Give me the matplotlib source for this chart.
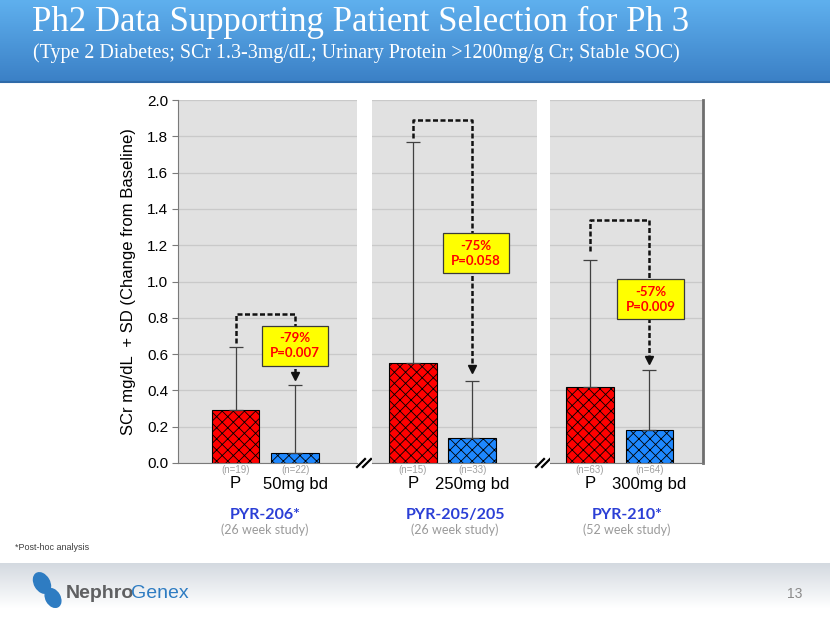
import numpy as np
import matplotlib
matplotlib.use("Agg")
import matplotlib.pyplot as plt
import matplotlib.transforms as mtransforms
from matplotlib.patches import Rectangle, Ellipse
from matplotlib.colors import LinearSegmentedColormap

# data
studies = ["PYR-206*", "PYR-205/205", "PYR-210*"]
durations = ["(26 week study)", "(26 week study)", "(52 week study)"]
groups = [["P", "50mg bd"], ["P", "250mg bd"], ["P", "300mg bd"]]
n_labels = [["(n=19)", "(n=22)"], ["(n=15)", "(n=33)"], ["(n=63)", "(n=64)"]]
means = [[0.29, 0.055], [0.55, 0.14], [0.42, 0.18]]
sds = [[0.35, 0.375], [1.22, 0.31], [0.70, 0.33]]
box_text = ["-79%\nP=0.007", "-75%\nP=0.058", "-57%\nP=0.009"]
yticks = [0.0, 0.2, 0.4, 0.6, 0.8, 1.0, 1.2, 1.4, 1.6, 1.8, 2.0]

# annotation geometry (data units)
bracket_start = [0.66, 1.79, 1.17]
bracket_top = [0.82, 1.89, 1.34]
arrow_tip = [0.46, 0.50, 0.55]
box_y = [(0.534, 0.756), (1.046, 1.268), (0.793, 1.013)]
box_x = [(0.445, 1.555), (0.508, 1.627), (0.454, 1.58)]

W, H = 830, 623
plt.rcParams["font.family"] = ["Liberation Sans", "DejaVu Sans"]
plt.rcParams["hatch.linewidth"] = 0.6
fig = plt.figure(figsize=(W / 100, H / 100), dpi=100)

def fx(x):
    return x / W

def fy(y):
    return 1 - y / H

# background: banner + footer
bg = fig.add_axes([0, 0, 1, 1])
bg.axis("off")
banner = LinearSegmentedColormap.from_list("b", ["#5fb0ee", "#3b80c6"])
bg.imshow(np.linspace(0, 1, 100).reshape(-1, 1), cmap=banner, aspect="auto",
          extent=[0, W, 82, 0], zorder=0)
bg.plot([0, W], [82, 82], color="#2f6aa8", lw=1.5)
foot = LinearSegmentedColormap.from_list("f", ["#d3d9e0", "#ffffff"])
bg.imshow(np.linspace(0, 1, 100).reshape(-1, 1), cmap=foot, aspect="auto",
          extent=[0, W, 608, 563], zorder=0)
bg.set_xlim(0, W)
bg.set_ylim(H, 0)

fig.text(fx(32), fy(22), "Ph2 Data Supporting Patient Selection for Ph 3",
         fontsize=25, color="white", family="Liberation Serif", va="center")
fig.text(fx(33), fy(53), "(Type 2 Diabetes; SCr 1.3-3mg/dL; Urinary Protein >1200mg/g Cr; Stable SOC)",
         fontsize=14.4, color="white", family="Liberation Serif", va="center")

# logo
bg.add_patch(Ellipse((42, 583), 15, 22, angle=-30, color="#2e7cc2"))
bg.add_patch(Ellipse((53, 598), 14, 20, angle=-30, color="#2e7cc2"))
t1 = bg.text(66, 594, "Nephro", fontsize=14, fontweight="bold", color="#5f6062", va="center")
bg.annotate("Genex", xy=(1, 0.5), xycoords=t1, xytext=(-2, 0), textcoords="offset points",
            fontsize=14, color="#2e7cc2", va="center", ha="left")
fig.text(fx(795), fy(594), "13", fontsize=10, color="#8a8a8a", ha="center", va="center")
fig.text(fx(15), fy(548), "*Post-hoc analysis", fontsize=6.5, color="#404040", va="center")

fig.text(fx(128), fy(282), "SCr mg/dL  + SD (Change from Baseline)", rotation=90,
         fontsize=12, ha="center", va="center")

# panels: (left px, right px, xlim)
panels = [(178, 357, (-0.966, 2.04)), (372, 537, (-0.695, 2.10)), (550, 703, (-0.672, 1.90))]
y0, y1 = 463, 100
study_x = [265, 455, 627]

for i, (l, r, xl) in enumerate(panels):
    ax = fig.add_axes([fx(l), fy(y0), (r - l) / W, (y0 - y1) / H])
    ax.set_facecolor("#e1e1e1")
    ax.set_xlim(*xl)
    ax.set_ylim(0, 2.0)
    ax.set_yticks(yticks)
    ax.yaxis.grid(True, color="#c9c9c9", lw=0.9)
    ax.set_axisbelow(True)
    ax.set_xticks([])
    for s in ["top", "right", "left"]:
        ax.spines[s].set_visible(False)
    ax.spines["bottom"].set_color("#7a7a7a")
    if i == 0:
        ax.spines["left"].set_visible(True)
        ax.spines["left"].set_color("#7a7a7a")
        ax.set_yticklabels([f"{v:.1f}" for v in yticks], fontsize=11)
        ax.tick_params(axis="y", length=4, color="#7a7a7a", pad=3)
    else:
        ax.tick_params(axis="y", length=0, labelleft=False)
    if i == 2:
        ax.spines["right"].set_visible(True)
        ax.spines["right"].set_color("#6e6e6e")
        ax.spines["right"].set_linewidth(2)

    x = np.arange(2)
    ax.bar(x, means[i], width=0.8, color=["#ff0000", "#1e88ff"], edgecolor="black",
           hatch="xxx", linewidth=0.8, zorder=2)
    ax.errorbar(x, means[i], yerr=[[0, 0], sds[i]], fmt="none", ecolor="#404040",
                elinewidth=0.9, capsize=5, capthick=0.9, zorder=3)

    # bracket + arrow
    ax.plot([0, 0, 1, 1], [bracket_start[i], bracket_top[i], bracket_top[i], arrow_tip[i] + 0.03],
            ls=(0, (2, 1)), color="#111111", lw=1.8, zorder=4)
    ax.plot(1, arrow_tip[i] + 0.02, marker="v", ms=6, color="#111111", zorder=5)
    bx0, bx1 = box_x[i]
    by0, by1 = box_y[i]
    ax.add_patch(Rectangle((bx0, by0), bx1 - bx0, by1 - by0, facecolor="#ffff00",
                           edgecolor="#3a3a3a", lw=0.9, zorder=6))
    ax.text((bx0 + bx1) / 2, (by0 + by1) / 2, box_text[i], ha="center", va="center",
            fontsize=9.5, fontweight="bold", color="#ff0000", family="Lato",
            linespacing=1.3, zorder=7)

    tr = mtransforms.blended_transform_factory(ax.transData, fig.transFigure)
    for j in range(2):
        ax.text(j, fy(470), n_labels[i][j], transform=tr, ha="center", va="center",
                fontsize=7, color="#a0a0a0")
        ax.text(j, fy(484), groups[i][j], transform=tr, ha="center", va="center",
                fontsize=12)
    fig.text(fx(study_x[i]), fy(515), studies[i], ha="center", va="center",
             fontsize=11.5, fontweight="bold", color="#2b3fd6", family="Lato")
    fig.text(fx(study_x[i]), fy(530), durations[i], ha="center", va="center",
             fontsize=9, color="#9a9a9a", family="Lato")

# axis break marks
for bx in [364, 543]:
    for dx in [-3, 3]:
        bg.plot([bx + dx - 4, bx + dx + 4], [y0 + 4, y0 - 4], color="black", lw=1.6)

fig.savefig("out.png", dpi=100)
